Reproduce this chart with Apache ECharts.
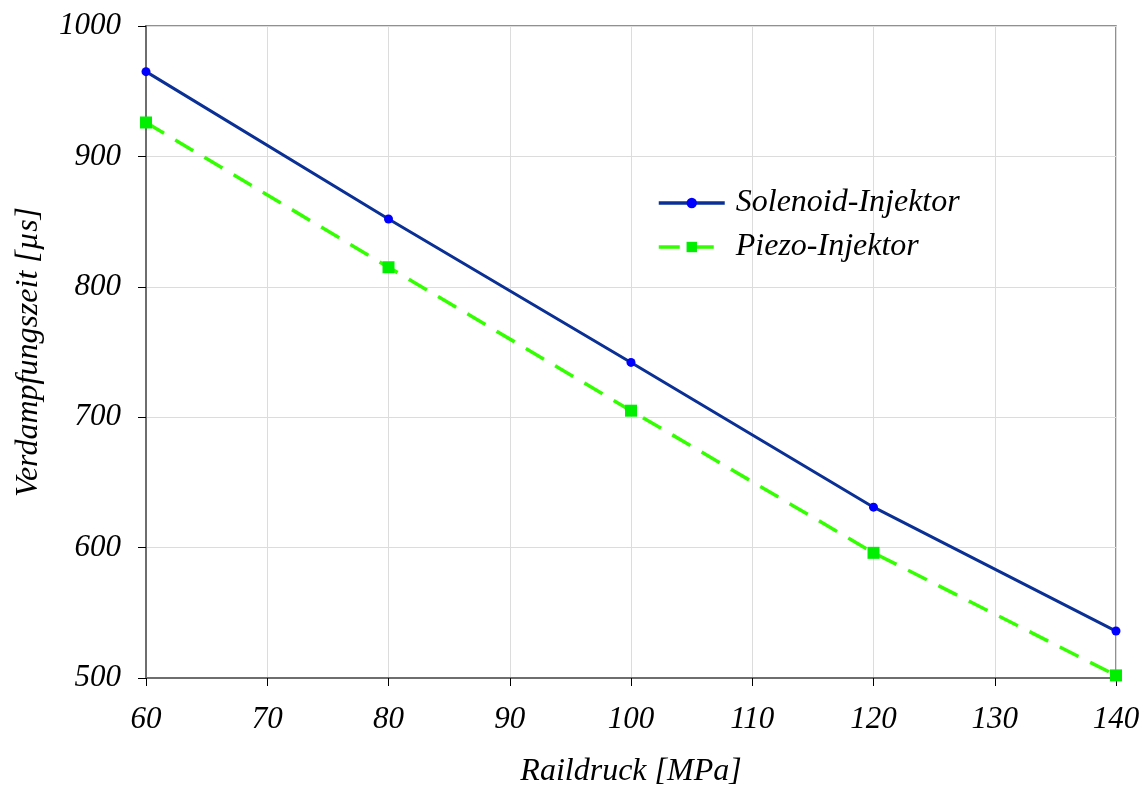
<!DOCTYPE html>
<html>
<head>
<meta charset="utf-8">
<script src="https://cdn.jsdelivr.net/npm/echarts@6/dist/echarts.min.js"></script>
<style>html,body{margin:0;padding:0;background:#fff}#c{width:1142px;height:785px}</style>
</head>
<body>
<div id="c"></div>
<script>
const raildruck = [60, 80, 100, 120, 140];
const solenoid = [965, 852, 742, 631, 536];
const piezo = [926, 815, 705, 596, 502];
const seriesNames = ['Solenoid-Injektor', 'Piezo-Injektor'];
const xTitle = 'Raildruck [MPa]';
const yTitle = 'Verdampfungszeit [µs]';

const font = "'Liberation Serif', 'Times New Roman', serif";
const chart = echarts.init(document.getElementById('c'));
chart.setOption({
  animation: false,
  backgroundColor: '#fff',
  grid: { left: 146, right: 26, top: 26, bottom: 107, containLabel: false, outerBoundsMode: 'none',
          show: true, borderColor: '#7d6560', borderWidth: 1.5 },
  legend: {
    left: 652, top: 182, orient: 'vertical', itemGap: 12, itemWidth: 66, itemHeight: 13,
    lineStyle: { width: 3.5 },
    textStyle: { fontFamily: font, fontStyle: 'italic', fontSize: 32, color: '#000', padding: [0,0,0,6] },
    data: seriesNames
  },
  xAxis: {
    type: 'value', min: 60, max: 140, interval: 10,
    name: xTitle, nameLocation: 'middle', nameGap: 78,
    nameTextStyle: { fontFamily: font, fontStyle: 'italic', fontSize: 32, color: '#000' },
    axisLine: { show: true, lineStyle: { color: '#6e6e6e', width: 2 } },
    axisTick: { show: true, length: 8, lineStyle: { color: '#000', width: 1 } },
    axisLabel: { fontFamily: font, fontStyle: 'italic', fontSize: 31, color: '#000', margin: 26,
                 formatter: v => String(v) },
    splitLine: { show: true, lineStyle: { color: '#dcdcdc', width: 1 } }
  },
  yAxis: {
    type: 'value', min: 500, max: 1000, interval: 100,
    name: yTitle, nameLocation: 'middle', nameGap: 101, nameRotate: 90,
    nameTextStyle: { fontFamily: font, fontStyle: 'italic', fontSize: 32, color: '#000' },
    axisLine: { show: true, lineStyle: { color: '#6e6e6e', width: 2 } },
    axisTick: { show: true, length: 8, lineStyle: { color: '#000', width: 1 } },
    axisLabel: { fontFamily: font, fontStyle: 'italic', fontSize: 31, color: '#000', margin: 25,
                 formatter: v => String(v) },
    splitLine: { show: true, lineStyle: { color: '#dcdcdc', width: 1 } }
  },
  series: [
    {
      name: seriesNames[0], type: 'line',
      data: raildruck.map((x, i) => [x, solenoid[i]]),
      symbol: 'circle', symbolSize: 9,
      itemStyle: { color: '#0000ff' },
      lineStyle: { color: '#0a3096', width: 3 }, z: 3
    },
    {
      name: seriesNames[1], type: 'line',
      data: raildruck.map((x, i) => [x, piezo[i]]),
      symbol: 'rect', symbolSize: 12,
      itemStyle: { color: '#00ee00' },
      lineStyle: { color: '#33ff00', width: 3.5, type: [21, 13] }, z: 2
    }
  ]
});
</script>
</body>
</html>
